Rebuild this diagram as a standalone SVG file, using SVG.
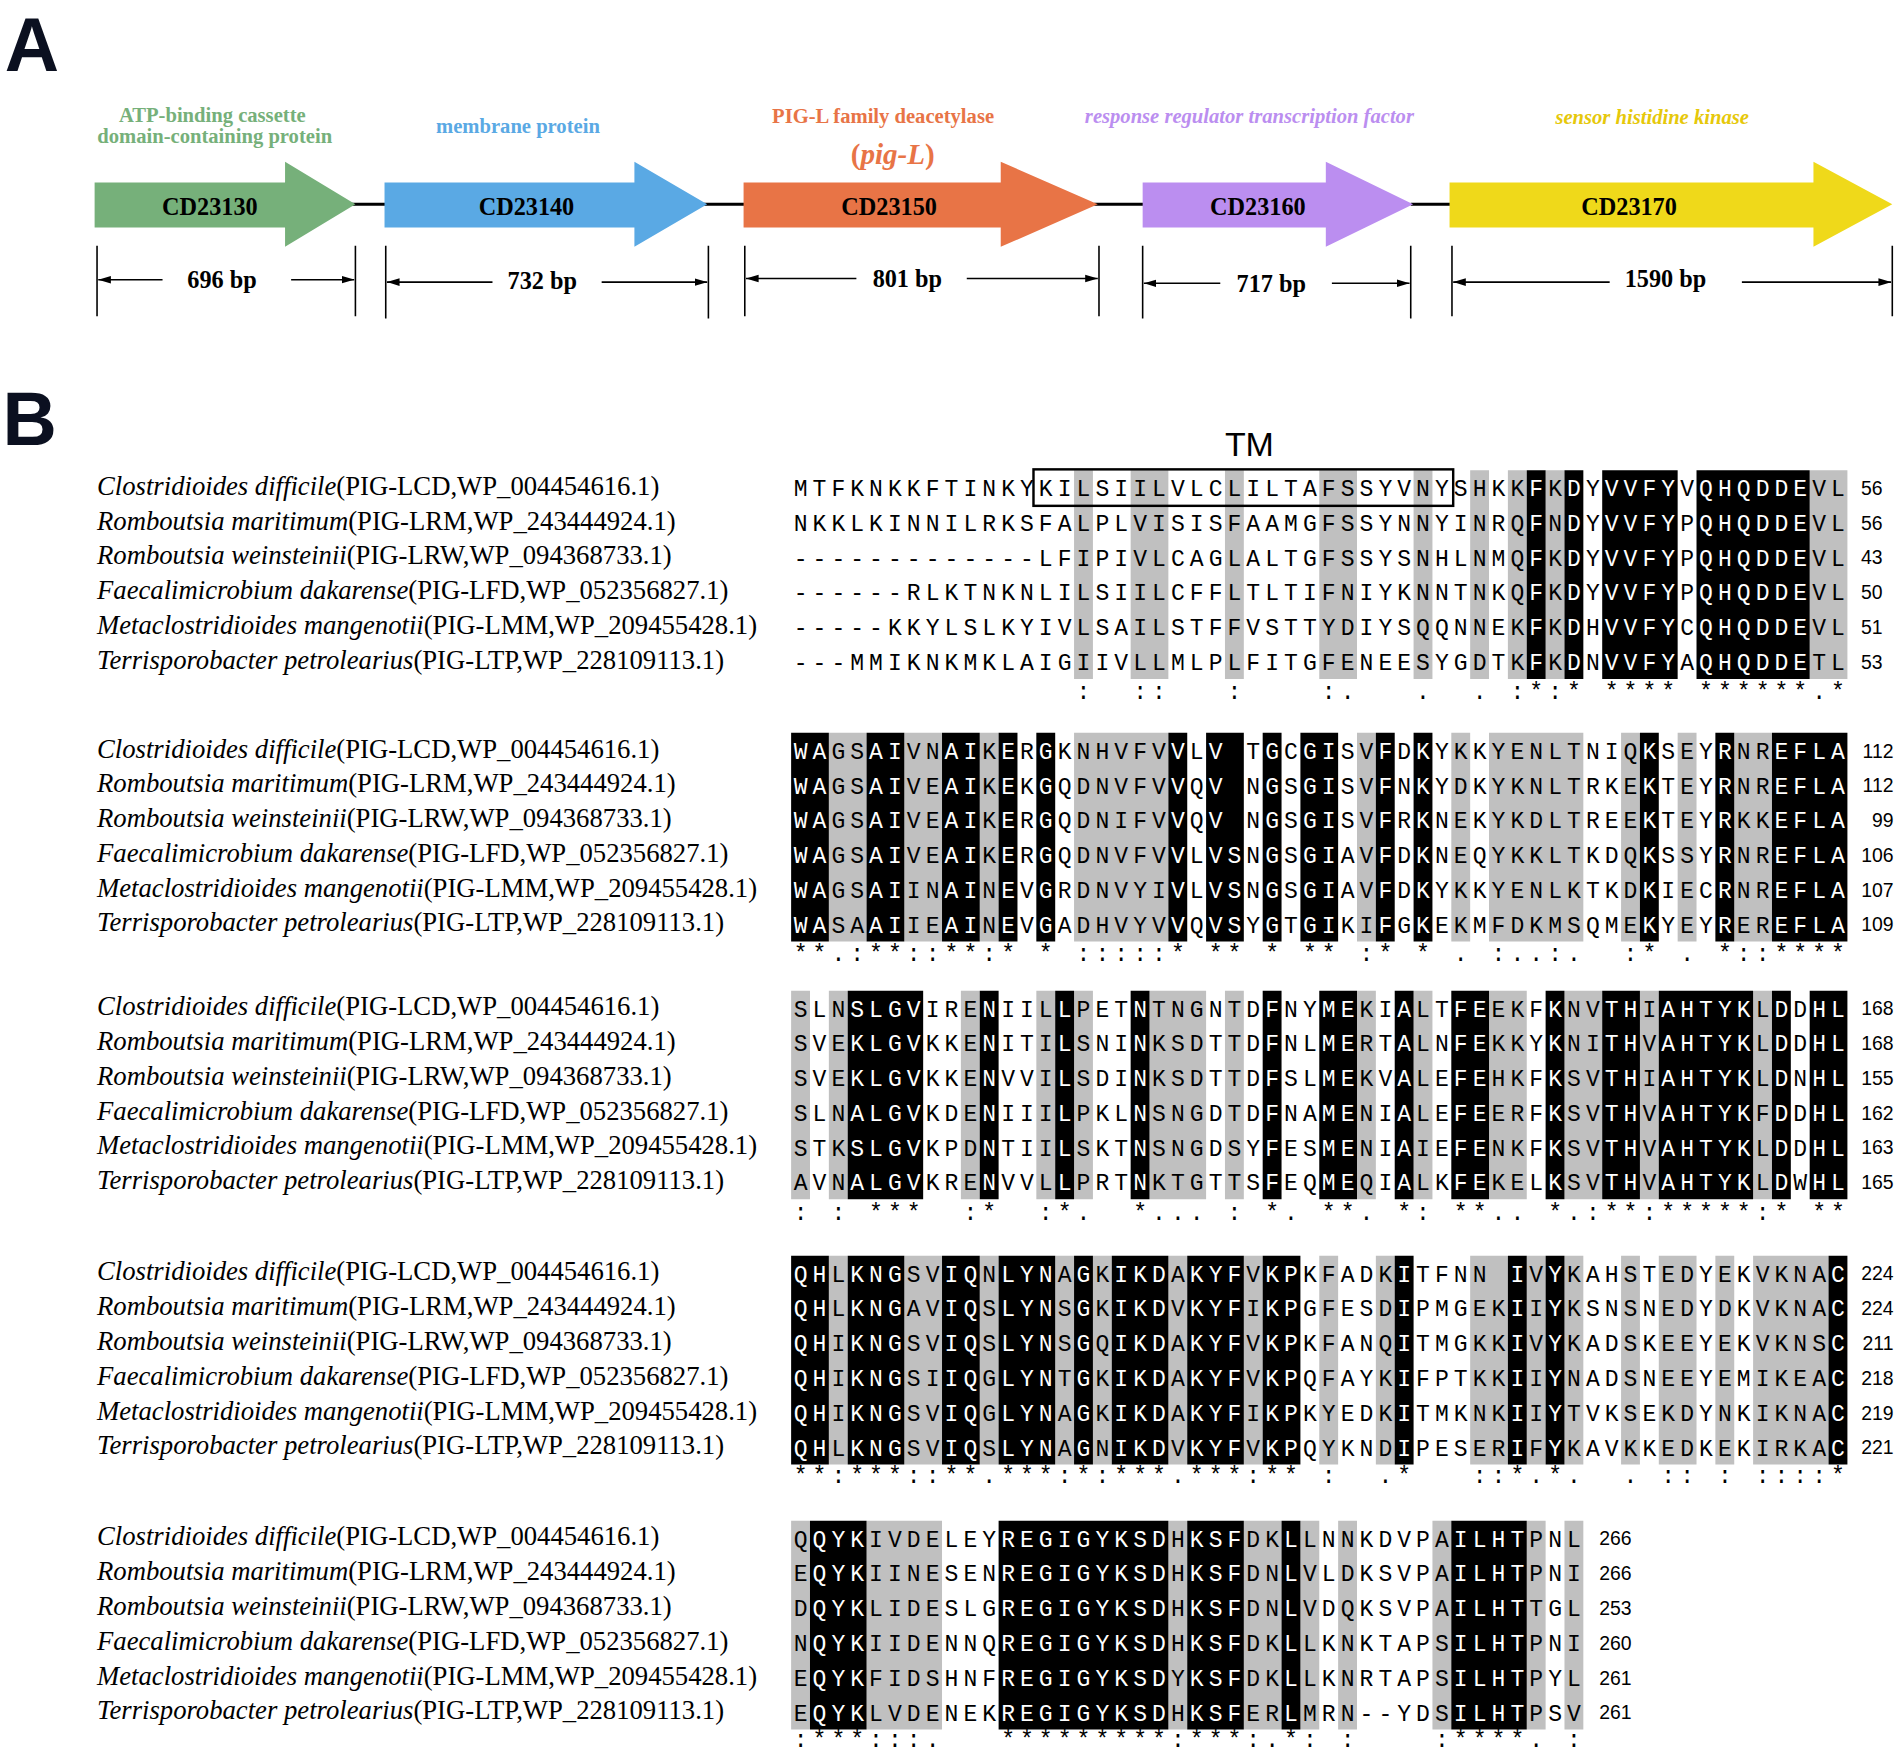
<svg xmlns="http://www.w3.org/2000/svg" xmlns:xlink="http://www.w3.org/1999/xlink" width="1902" height="1751" viewBox="0 0 1902 1751">
<style>
.pl{font-family:"Liberation Sans",Arial,sans-serif;font-weight:bold;font-size:62px;fill:#0b1020}
.gn{font-family:"Liberation Serif","Times New Roman",serif;font-weight:bold;font-size:20px;fill:#000;text-anchor:middle}
.fn{font-family:"Liberation Serif","Times New Roman",serif;font-weight:bold;font-size:17px;text-anchor:middle}
.bp{font-family:"Liberation Serif","Times New Roman",serif;font-weight:bold;font-size:20px;text-anchor:middle}
.dim{stroke:#000;stroke-width:1.3;fill:none}
.nm{font-family:"Liberation Serif","Times New Roman",serif;font-size:22px;fill:#000}
.sq{font-family:"Liberation Mono","Courier New",monospace;font-size:19px;white-space:pre}
.num{font-family:"Liberation Sans",Arial,sans-serif;font-size:16px;text-anchor:end}
.gr{fill:#c0c0c0}
</style>
<defs>
<marker id="ah" viewBox="0 0 10 10" refX="10" refY="5" markerWidth="8" markerHeight="8" orient="auto-start-reverse"><path d="M0,2 L10,5 L0,8 Z" fill="#000"/></marker>
<path id="blk1" d="M1258.65 386.7H1274.2V558.3H1258.65Z M1289.75 386.7H1305.3V558.3H1289.75Z M1320.85 386.7H1383.05V558.3H1320.85Z M1398.6 386.7H1491.9V558.3H1398.6Z"/>
<path id="blk2" d="M652.2 602.7H683.3V774.3H652.2Z M714.4 602.7H745.5V774.3H714.4Z M776.6 602.7H807.7V774.3H776.6Z M823.25 602.7H838.8V774.3H823.25Z M854.35 602.7H869.9V774.3H854.35Z M963.2 602.7H978.75V774.3H963.2Z M994.3 602.7H1025.4V774.3H994.3Z M1040.95 602.7H1056.5V774.3H1040.95Z M1072.05 602.7H1103.15V774.3H1072.05Z M1134.25 602.7H1149.8V774.3H1134.25Z M1165.35 602.7H1180.9V774.3H1165.35Z M1351.95 602.7H1367.5V774.3H1351.95Z M1414.15 602.7H1429.7V774.3H1414.15Z M1460.8 602.7H1523V774.3H1460.8Z"/>
<path id="blk3" d="M698.85 814.7H761.05V986.3H698.85Z M807.7 814.7H823.25V986.3H807.7Z M869.9 814.7H885.45V986.3H869.9Z M932.1 814.7H947.65V986.3H932.1Z M1040.95 814.7H1056.5V986.3H1040.95Z M1087.6 814.7H1118.7V986.3H1087.6Z M1149.8 814.7H1165.35V986.3H1149.8Z M1196.45 814.7H1227.55V986.3H1196.45Z M1274.2 814.7H1289.75V986.3H1274.2Z M1320.85 814.7H1351.95V986.3H1320.85Z M1367.5 814.7H1445.25V986.3H1367.5Z M1460.8 814.7H1476.35V986.3H1460.8Z M1491.9 814.7H1523V986.3H1491.9Z"/>
<path id="blk4" d="M652.2 1032.7H683.3V1204.3H652.2Z M698.85 1032.7H745.5V1204.3H698.85Z M776.6 1032.7H807.7V1204.3H776.6Z M823.25 1032.7H869.9V1204.3H823.25Z M885.45 1032.7H901V1204.3H885.45Z M916.55 1032.7H963.2V1204.3H916.55Z M978.75 1032.7H1025.4V1204.3H978.75Z M1040.95 1032.7H1072.05V1204.3H1040.95Z M1149.8 1032.7H1165.35V1204.3H1149.8Z M1243.1 1032.7H1258.65V1204.3H1243.1Z M1274.2 1032.7H1289.75V1204.3H1274.2Z M1507.45 1032.7H1523V1204.3H1507.45Z"/>
<path id="blk5" d="M667.75 1250.7H714.4V1422.3H667.75Z M823.25 1250.7H963.2V1422.3H823.25Z M978.75 1250.7H1025.4V1422.3H978.75Z M1056.5 1250.7H1072.05V1422.3H1056.5Z M1196.45 1250.7H1258.65V1422.3H1196.45Z"/>
<clipPath id="cb1"><use xlink:href="#blk1"/></clipPath>
<clipPath id="cb2"><use xlink:href="#blk2"/></clipPath>
<clipPath id="cb3"><use xlink:href="#blk3"/></clipPath>
<clipPath id="cb4"><use xlink:href="#blk4"/></clipPath>
<clipPath id="cb5"><use xlink:href="#blk5"/></clipPath>
<g id="rows1">
<text class="sq" x="654.3" y="408" textLength="866.65" lengthAdjust="spacing">MTFKNKKFTINKYKILSIILVLCLILTAFSSYVNYSHKKFKDYVVFYVQHQDDEVL</text>
<text class="sq" x="654.3" y="436.6" textLength="866.65" lengthAdjust="spacing">NKKLKINNILRKSFALPLVISISFAAMGFSSYNNYINRQFNDYVVFYPQHQDDEVL</text>
<text class="sq" x="654.3" y="465.2" textLength="866.65" lengthAdjust="spacing">-------------LFIPIVLCAGLALTGFSSYSNHLNMQFKDYVVFYPQHQDDEVL</text>
<text class="sq" x="654.3" y="493.8" textLength="866.65" lengthAdjust="spacing">------RLKTNKNLILSIILCFFLTLTIFNIYKNNTNKQFKDYVVFYPQHQDDEVL</text>
<text class="sq" x="654.3" y="522.4" textLength="866.65" lengthAdjust="spacing">-----KKYLSLKYIVLSAILSTFFVSTTYDIYSQQNNEKFKDHVVFYCQHQDDEVL</text>
<text class="sq" x="654.3" y="551" textLength="866.65" lengthAdjust="spacing">---MMIKNKMKLAIGIIVLLMLPLFITGFENEESYGDTKFKDNVVFYAQHQDDETL</text>
</g>
<g id="rows2">
<text class="sq" x="654.3" y="624" textLength="866.65" lengthAdjust="spacing">WAGSAIVNAIKERGKNHVFVVLV TGCGISVFDKYKKYENLTNIQKSEYRNREFLA</text>
<text class="sq" x="654.3" y="652.6" textLength="866.65" lengthAdjust="spacing">WAGSAIVEAIKEKGQDNVFVVQV NGSGISVFNKYDKYKNLTRKEKTEYRNREFLA</text>
<text class="sq" x="654.3" y="681.2" textLength="866.65" lengthAdjust="spacing">WAGSAIVEAIKERGQDNIFVVQV NGSGISVFRKNEKYKDLTREEKTEYRKKEFLA</text>
<text class="sq" x="654.3" y="709.8" textLength="866.65" lengthAdjust="spacing">WAGSAIVEAIKERGQDNVFVVLVSNGSGIAVFDKNEQYKKLTKDQKSSYRNREFLA</text>
<text class="sq" x="654.3" y="738.4" textLength="866.65" lengthAdjust="spacing">WAGSAIINAINEVGRDNVYIVLVSNGSGIAVFDKYKKYENLKTKDKIECRNREFLA</text>
<text class="sq" x="654.3" y="767" textLength="866.65" lengthAdjust="spacing">WASAAIIEAINEVGADHVYVVQVSYGTGIKIFGKEKMFDKMSQMEKYEYREREFLA</text>
</g>
<g id="rows3">
<text class="sq" x="654.3" y="836" textLength="866.65" lengthAdjust="spacing">SLNSLGVIRENIILLPETNTNGNTDFNYMEKIALTFEEKFKNVTHIAHTYKLDDHL</text>
<text class="sq" x="654.3" y="864.6" textLength="866.65" lengthAdjust="spacing">SVEKLGVKKENITILSNINKSDTTDFNLMERTALNFEKKYKNITHVAHTYKLDDHL</text>
<text class="sq" x="654.3" y="893.2" textLength="866.65" lengthAdjust="spacing">SVEKLGVKKENVVILSDINKSDTTDFSLMEKVALEFEHKFKSVTHIAHTYKLDNHL</text>
<text class="sq" x="654.3" y="921.8" textLength="866.65" lengthAdjust="spacing">SLNALGVKDENIIILPKLNSNGDTDFNAMENIALEFEERFKSVTHVAHTYKFDDHL</text>
<text class="sq" x="654.3" y="950.4" textLength="866.65" lengthAdjust="spacing">STKSLGVKPDNTIILSKTNSNGDSYFESMENIAIEFENKFKSVTHVAHTYKLDDHL</text>
<text class="sq" x="654.3" y="979" textLength="866.65" lengthAdjust="spacing">AVNALGVKRENVVLLPRTNKTGTTSFEQMEQIALKFEKELKSVTHVAHTYKLDWHL</text>
</g>
<g id="rows4">
<text class="sq" x="654.3" y="1054" textLength="866.65" lengthAdjust="spacing">QHLKNGSVIQNLYNAGKIKDAKYFVKPKFADKITFNN IVYKAHSTEDYEKVKNAC</text>
<text class="sq" x="654.3" y="1082.6" textLength="866.65" lengthAdjust="spacing">QHLKNGAVIQSLYNSGKIKDVKYFIKPGFESDIPMGEKIIYKSNSNEDYDKVKNAC</text>
<text class="sq" x="654.3" y="1111.2" textLength="866.65" lengthAdjust="spacing">QHIKNGSVIQSLYNSGQIKDAKYFVKPKFANQITMGKKIVYKADSKEEYEKVKNSC</text>
<text class="sq" x="654.3" y="1139.8" textLength="866.65" lengthAdjust="spacing">QHIKNGSIIQGLYNTGKIKDAKYFVKPQFAYKIFPTKKIIYNADSNEEYEMIKEAC</text>
<text class="sq" x="654.3" y="1168.4" textLength="866.65" lengthAdjust="spacing">QHIKNGSVIQGLYNAGKIKDAKYFIKPKYEDKITMKNKIIYTVKSEKDYNKIKNAC</text>
<text class="sq" x="654.3" y="1197" textLength="866.65" lengthAdjust="spacing">QHLKNGSVIQSLYNAGNIKDVKYFVKPQYKNDIPESERIFYKAVKKEDKEKIRKAC</text>
</g>
<g id="rows5">
<text class="sq" x="654.3" y="1272" textLength="648.95" lengthAdjust="spacing">QQYKIVDELEYREGIGYKSDHKSFDKLLNNKDVPAILHTPNL</text>
<text class="sq" x="654.3" y="1300.6" textLength="648.95" lengthAdjust="spacing">EQYKIINESENREGIGYKSDHKSFDNLVLDKSVPAILHTPNI</text>
<text class="sq" x="654.3" y="1329.2" textLength="648.95" lengthAdjust="spacing">DQYKLIDESLGREGIGYKSDHKSFDNLVDQKSVPAILHTTGL</text>
<text class="sq" x="654.3" y="1357.8" textLength="648.95" lengthAdjust="spacing">NQYKIIDENNQREGIGYKSDHKSFDKLLKNKTAPSILHTPNI</text>
<text class="sq" x="654.3" y="1386.4" textLength="648.95" lengthAdjust="spacing">EQYKFIDSHNFREGIGYKSDYKSFDKLLKNRTAPSILHTPYL</text>
<text class="sq" x="654.3" y="1415" textLength="648.95" lengthAdjust="spacing">EQYKLVDENEKREGIGYKSDHKSFERLMRN--YDSILHTPSV</text>
</g>
<g id="names">
<text class="nm" x="80" y="0"><tspan font-style="italic">Clostridioides difficile</tspan>(PIG-LCD,WP_004454616.1)</text>
<text class="nm" x="80" y="28.6"><tspan font-style="italic">Romboutsia maritimum</tspan>(PIG-LRM,WP_243444924.1)</text>
<text class="nm" x="80" y="57.2"><tspan font-style="italic">Romboutsia weinsteinii</tspan>(PIG-LRW,WP_094368733.1)</text>
<text class="nm" x="80" y="85.8"><tspan font-style="italic">Faecalimicrobium dakarense</tspan>(PIG-LFD,WP_052356827.1)</text>
<text class="nm" x="80" y="114.4"><tspan font-style="italic">Metaclostridioides mangenotii</tspan>(PIG-LMM,WP_209455428.1)</text>
<text class="nm" x="80" y="143"><tspan font-style="italic">Terrisporobacter petrolearius</tspan>(PIG-LTP,WP_228109113.1)</text>
</g>
</defs>
<rect width="1902" height="1751" fill="#fff"/>
<g transform="scale(1.21301,1.21597)">
<g id="panelA">
<text class="pl" x="4" y="58">A</text>
<g id="backbone"><path d="M290 168H320M580 168H616M902 168H944M1163 168H1197" stroke="#000" stroke-width="2.5"/></g>
<g id="CD23130"><path d="M78 150H235V133L293 168L235 203V187H78Z" fill="#76b07a"/><text class="gn" x="173" y="177">CD23130</text>
<text class="fn" x="175" y="100" fill="#76b07a">ATP-binding cassette</text><text class="fn" x="177" y="118" fill="#76b07a">domain-containing protein</text></g>
<g id="CD23140"><path d="M317 150H523V133L583 168L523 203V187H317Z" fill="#5aa9e4"/><text class="gn" x="434" y="177">CD23140</text>
<text class="fn" x="427" y="109" fill="#5aa9e4">membrane protein</text></g>
<g id="CD23150"><path d="M613 150H825V133L905 168L825 203V187H613Z" fill="#e87446"/><text class="gn" x="733" y="177">CD23150</text>
<text class="fn" x="728" y="101" fill="#e87446">PIG-L family deacetylase</text><text class="fn" x="736" y="135" fill="#e87446" style="font-size:24px">(<tspan font-style="italic">pig-L</tspan>)</text></g>
<g id="CD23160"><path d="M942 150H1093V133L1165 168L1093 203V187H942Z" fill="#bb8ef0"/><text class="gn" x="1037" y="177">CD23160</text>
<text class="fn" x="1030" y="101" fill="#bb8ef0" font-style="italic">response regulator transcription factor</text></g>
<g id="CD23170"><path d="M1195 150H1495V133L1560 168L1495 203V187H1195Z" fill="#efd91a"/><text class="gn" x="1343" y="177">CD23170</text>
<text class="fn" x="1362" y="102" fill="#e6c80a" font-style="italic">sensor histidine kinase</text></g>
<g id="dims">
<path class="dim" d="M80 202V260M293 202V260M318 202V262M584 202V262M614 202V260M906 202V260M942 202V262M1163 202V262M1197 202V260M1560 202V260"/>
<path class="dim" d="M134 230H81" marker-end="url(#ah)"/><path class="dim" d="M240 230H292" marker-end="url(#ah)"/>
<path class="dim" d="M406 232H319" marker-end="url(#ah)"/><path class="dim" d="M496 232H583" marker-end="url(#ah)"/>
<path class="dim" d="M706 229H615" marker-end="url(#ah)"/><path class="dim" d="M797 229H905" marker-end="url(#ah)"/>
<path class="dim" d="M1006 233H943" marker-end="url(#ah)"/><path class="dim" d="M1098 233H1162" marker-end="url(#ah)"/>
<path class="dim" d="M1327 232H1198" marker-end="url(#ah)"/><path class="dim" d="M1436 232H1559" marker-end="url(#ah)"/>
<text class="bp" x="183" y="237">696 bp</text><text class="bp" x="447" y="238">732 bp</text><text class="bp" x="748" y="236">801 bp</text><text class="bp" x="1048" y="240">717 bp</text><text class="bp" x="1373" y="236">1590 bp</text>
</g>
</g>
<g id="panelB">
<text class="pl" x="2" y="366">B</text>
<text x="1030" y="375" style="font-family:'Liberation Sans',Arial,sans-serif;font-size:28px" text-anchor="middle">TM</text>
<g id="names1"><use xlink:href="#names" transform="translate(0,407)"/></g>
<g id="names2"><use xlink:href="#names" transform="translate(0,623)"/></g>
<g id="names3"><use xlink:href="#names" transform="translate(0,835)"/></g>
<g id="names4"><use xlink:href="#names" transform="translate(0,1053)"/></g>
<g id="names5"><use xlink:href="#names" transform="translate(0,1271)"/></g>
<g id="block1">
<path class="gr" d="M885.45 386.7H901V558.3H885.45Z M932.1 386.7H963.2V558.3H932.1Z M1009.85 386.7H1025.4V558.3H1009.85Z M1087.6 386.7H1118.7V558.3H1087.6Z M1165.35 386.7H1180.9V558.3H1165.35Z M1212 386.7H1227.55V558.3H1212Z M1243.1 386.7H1258.65V558.3H1243.1Z M1274.2 386.7H1289.75V558.3H1274.2Z M1491.9 386.7H1523V558.3H1491.9Z"/>
<use xlink:href="#blk1" fill="#000"/>
<use xlink:href="#rows1" fill="#000"/>
<g clip-path="url(#cb1)"><use xlink:href="#rows1" fill="#fff"/></g>
<rect x="852" y="386" width="346" height="30" fill="none" stroke="#000" stroke-width="2"/>
<text class="sq" x="654.3" y="575" textLength="866.65" lengthAdjust="spacing">               :  ::   :    :.   .  . :*:* **** ******.*</text>
<text class="num" x="1552" y="407">56</text><text class="num" x="1552" y="435.6">56</text><text class="num" x="1552" y="464.2">43</text><text class="num" x="1552" y="492.8">50</text><text class="num" x="1552" y="521.4">51</text><text class="num" x="1552" y="550">53</text>
</g>
<g id="block2">
<path class="gr" d="M683.3 602.7H714.4V774.3H683.3Z M745.5 602.7H776.6V774.3H745.5Z M807.7 602.7H823.25V774.3H807.7Z M885.45 602.7H963.2V774.3H885.45Z M1118.7 602.7H1134.25V774.3H1118.7Z M1196.45 602.7H1212V774.3H1196.45Z M1227.55 602.7H1305.3V774.3H1227.55Z M1336.4 602.7H1351.95V774.3H1336.4Z M1383.05 602.7H1398.6V774.3H1383.05Z M1429.7 602.7H1460.8V774.3H1429.7Z"/>
<use xlink:href="#blk2" fill="#000"/>
<use xlink:href="#rows2" fill="#000"/>
<g clip-path="url(#cb2)"><use xlink:href="#rows2" fill="#fff"/></g>
<text class="sq" x="654.3" y="790" textLength="866.65" lengthAdjust="spacing">**.:**::**:* * :::::* ** * ** :* * . :..:.  :* . *::****</text>
<text class="num" x="1561" y="623">112</text><text class="num" x="1561" y="651.6">112</text><text class="num" x="1561" y="680.2">99</text><text class="num" x="1561" y="708.8">106</text><text class="num" x="1561" y="737.4">107</text><text class="num" x="1561" y="766">109</text>
</g>
<g id="block3">
<path class="gr" d="M652.2 814.7H667.75V986.3H652.2Z M683.3 814.7H698.85V986.3H683.3Z M792.15 814.7H807.7V986.3H792.15Z M854.35 814.7H869.9V986.3H854.35Z M885.45 814.7H901V986.3H885.45Z M947.65 814.7H994.3V986.3H947.65Z M1009.85 814.7H1025.4V986.3H1009.85Z M1118.7 814.7H1134.25V986.3H1118.7Z M1165.35 814.7H1180.9V986.3H1165.35Z M1227.55 814.7H1258.65V986.3H1227.55Z M1289.75 814.7H1320.85V986.3H1289.75Z M1351.95 814.7H1367.5V986.3H1351.95Z M1445.25 814.7H1460.8V986.3H1445.25Z"/>
<use xlink:href="#blk3" fill="#000"/>
<use xlink:href="#rows3" fill="#000"/>
<g clip-path="url(#cb3)"><use xlink:href="#rows3" fill="#fff"/></g>
<text class="sq" x="654.3" y="1003" textLength="866.65" lengthAdjust="spacing">: : ***  :*  :*.  *... : *. **. *: **.. *.:**:*****:* **</text>
<text class="num" x="1561" y="835">168</text><text class="num" x="1561" y="863.6">168</text><text class="num" x="1561" y="892.2">155</text><text class="num" x="1561" y="920.8">162</text><text class="num" x="1561" y="949.4">163</text><text class="num" x="1561" y="978">165</text>
</g>
<g id="block4">
<path class="gr" d="M683.3 1032.7H698.85V1204.3H683.3Z M745.5 1032.7H776.6V1204.3H745.5Z M807.7 1032.7H823.25V1204.3H807.7Z M869.9 1032.7H885.45V1204.3H869.9Z M901 1032.7H916.55V1204.3H901Z M963.2 1032.7H978.75V1204.3H963.2Z M1025.4 1032.7H1040.95V1204.3H1025.4Z M1087.6 1032.7H1103.15V1204.3H1087.6Z M1134.25 1032.7H1149.8V1204.3H1134.25Z M1212 1032.7H1243.1V1204.3H1212Z M1258.65 1032.7H1274.2V1204.3H1258.65Z M1289.75 1032.7H1305.3V1204.3H1289.75Z M1336.4 1032.7H1351.95V1204.3H1336.4Z M1367.5 1032.7H1398.6V1204.3H1367.5Z M1414.15 1032.7H1429.7V1204.3H1414.15Z M1445.25 1032.7H1507.45V1204.3H1445.25Z"/>
<use xlink:href="#blk4" fill="#000"/>
<use xlink:href="#rows4" fill="#000"/>
<g clip-path="url(#cb4)"><use xlink:href="#rows4" fill="#fff"/></g>
<text class="sq" x="654.3" y="1220" textLength="866.65" lengthAdjust="spacing">**:***::**.***:*:***.***:** :  .*   ::*.*.  . :: : ::::*</text>
<text class="num" x="1561" y="1053">224</text><text class="num" x="1561" y="1081.6">224</text><text class="num" x="1561" y="1110.2">211</text><text class="num" x="1561" y="1138.8">218</text><text class="num" x="1561" y="1167.4">219</text><text class="num" x="1561" y="1196">221</text>
</g>
<g id="block5">
<path class="gr" d="M652.2 1250.7H667.75V1422.3H652.2Z M714.4 1250.7H776.6V1422.3H714.4Z M963.2 1250.7H978.75V1422.3H963.2Z M1025.4 1250.7H1056.5V1422.3H1025.4Z M1072.05 1250.7H1087.6V1422.3H1072.05Z M1103.15 1250.7H1118.7V1422.3H1103.15Z M1180.9 1250.7H1196.45V1422.3H1180.9Z M1258.65 1250.7H1274.2V1422.3H1258.65Z M1289.75 1250.7H1305.3V1422.3H1289.75Z"/>
<use xlink:href="#blk5" fill="#000"/>
<use xlink:href="#rows5" fill="#000"/>
<g clip-path="url(#cb5)"><use xlink:href="#rows5" fill="#fff"/></g>
<text class="sq" x="654.3" y="1437" textLength="648.95" lengthAdjust="spacing">:***:::.   *********:***:.*: :    :****. :</text>
<text class="num" x="1345" y="1271">266</text><text class="num" x="1345" y="1299.6">266</text><text class="num" x="1345" y="1328.2">253</text><text class="num" x="1345" y="1356.8">260</text><text class="num" x="1345" y="1385.4">261</text><text class="num" x="1345" y="1414">261</text>
</g>
</g>
</g>
</svg>
